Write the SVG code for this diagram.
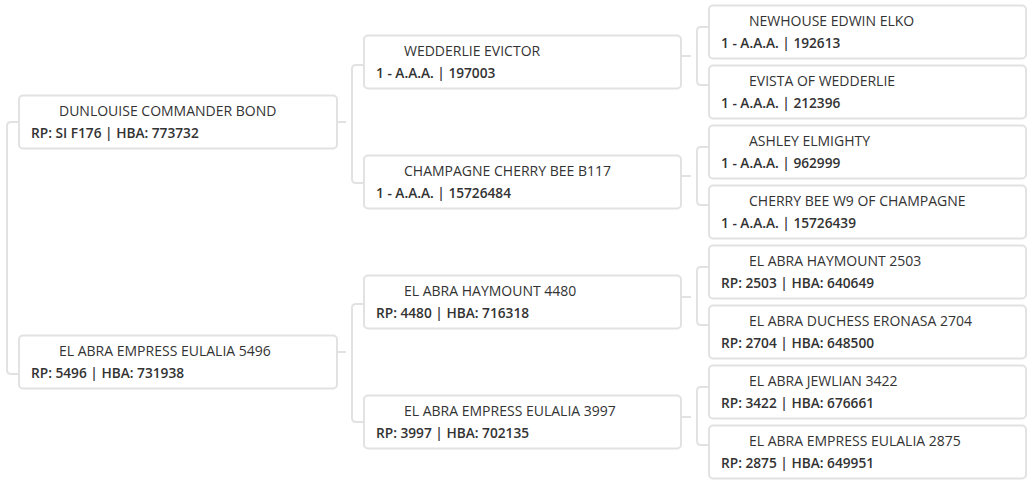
<svg xmlns="http://www.w3.org/2000/svg" width="1032" height="484" viewBox="0 0 1032 484">
<style>
.box{fill:#fff;stroke:#e2e2e2;stroke-width:2}
.ln{fill:none;stroke:#e2e2e2;stroke-width:2}
.nm{font-family:"Open Sans","Liberation Sans",sans-serif;font-size:14px;fill:#333}
.id{font-family:"Open Sans","Liberation Sans",sans-serif;font-size:13.7px;font-weight:600;fill:#333}
</style>
<rect width="1032" height="484" fill="#fff"/>
<g id="connectors">
<path class="ln" d="M19,122 H11 Q7,122 7,126 V370 Q7,374 11,374 H19"/>
<path class="ln" d="M337,122 H346"/>
<path class="ln" d="M337,352 H346"/>
<path class="ln" d="M364,65 H356 Q352,65 352,69 V179 Q352,183 356,183 H364"/>
<path class="ln" d="M364,304 H356 Q352,304 352,308 V418 Q352,422 356,422 H364"/>
<path class="ln" d="M682,56 H691"/>
<path class="ln" d="M682,176 H691"/>
<path class="ln" d="M682,297 H691"/>
<path class="ln" d="M682,417 H691"/>
<path class="ln" d="M709,27 H701 Q697,27 697,31 V81 Q697,85 701,85 H709"/>
<path class="ln" d="M709,147 H701 Q697,147 697,151 V201 Q697,205 701,205 H709"/>
<path class="ln" d="M709,267 H701 Q697,267 697,271 V321 Q697,325 701,325 H709"/>
<path class="ln" d="M709,387 H701 Q697,387 697,391 V441 Q697,445 701,445 H709"/>
</g>
<g id="n1"><rect class="box" x="19" y="95.5" width="318" height="53" rx="4"/><text class="nm" x="59" y="116">DUNLOUISE COMMANDER BOND</text><text class="id" x="31" y="138">RP: SI F176 | HBA: 773732</text></g>
<g id="n2"><rect class="box" x="19" y="335.5" width="318" height="53" rx="4"/><text class="nm" x="59" y="356">EL ABRA EMPRESS EULALIA 5496</text><text class="id" x="31" y="378">RP: 5496 | HBA: 731938</text></g>
<g id="n3"><rect class="box" x="364" y="35.5" width="317" height="53" rx="4"/><text class="nm" x="404" y="56">WEDDERLIE EVICTOR</text><text class="id" x="376" y="78">1 - A.A.A. | 197003</text></g>
<g id="n4"><rect class="box" x="364" y="155.5" width="317" height="53" rx="4"/><text class="nm" x="404" y="176">CHAMPAGNE CHERRY BEE B117</text><text class="id" x="376" y="198">1 - A.A.A. | 15726484</text></g>
<g id="n5"><rect class="box" x="364" y="275.5" width="317" height="53" rx="4"/><text class="nm" x="404" y="296">EL ABRA HAYMOUNT 4480</text><text class="id" x="376" y="318">RP: 4480 | HBA: 716318</text></g>
<g id="n6"><rect class="box" x="364" y="395.5" width="317" height="53" rx="4"/><text class="nm" x="404" y="416">EL ABRA EMPRESS EULALIA 3997</text><text class="id" x="376" y="438">RP: 3997 | HBA: 702135</text></g>
<g id="n7"><rect class="box" x="709" y="5.5" width="317" height="53" rx="4"/><text class="nm" x="749" y="26">NEWHOUSE EDWIN ELKO</text><text class="id" x="721" y="48">1 - A.A.A. | 192613</text></g>
<g id="n8"><rect class="box" x="709" y="65.5" width="317" height="53" rx="4"/><text class="nm" x="749" y="86">EVISTA OF WEDDERLIE</text><text class="id" x="721" y="108">1 - A.A.A. | 212396</text></g>
<g id="n9"><rect class="box" x="709" y="125.5" width="317" height="53" rx="4"/><text class="nm" x="749" y="146">ASHLEY ELMIGHTY</text><text class="id" x="721" y="168">1 - A.A.A. | 962999</text></g>
<g id="n10"><rect class="box" x="709" y="185.5" width="317" height="53" rx="4"/><text class="nm" x="749" y="206">CHERRY BEE W9 OF CHAMPAGNE</text><text class="id" x="721" y="228">1 - A.A.A. | 15726439</text></g>
<g id="n11"><rect class="box" x="709" y="245.5" width="317" height="53" rx="4"/><text class="nm" x="749" y="266">EL ABRA HAYMOUNT 2503</text><text class="id" x="721" y="288">RP: 2503 | HBA: 640649</text></g>
<g id="n12"><rect class="box" x="709" y="305.5" width="317" height="53" rx="4"/><text class="nm" x="749" y="326">EL ABRA DUCHESS ERONASA 2704</text><text class="id" x="721" y="348">RP: 2704 | HBA: 648500</text></g>
<g id="n13"><rect class="box" x="709" y="365.5" width="317" height="53" rx="4"/><text class="nm" x="749" y="386">EL ABRA JEWLIAN 3422</text><text class="id" x="721" y="408">RP: 3422 | HBA: 676661</text></g>
<g id="n14"><rect class="box" x="709" y="425.5" width="317" height="53" rx="4"/><text class="nm" x="749" y="446">EL ABRA EMPRESS EULALIA 2875</text><text class="id" x="721" y="468">RP: 2875 | HBA: 649951</text></g>
</svg>
